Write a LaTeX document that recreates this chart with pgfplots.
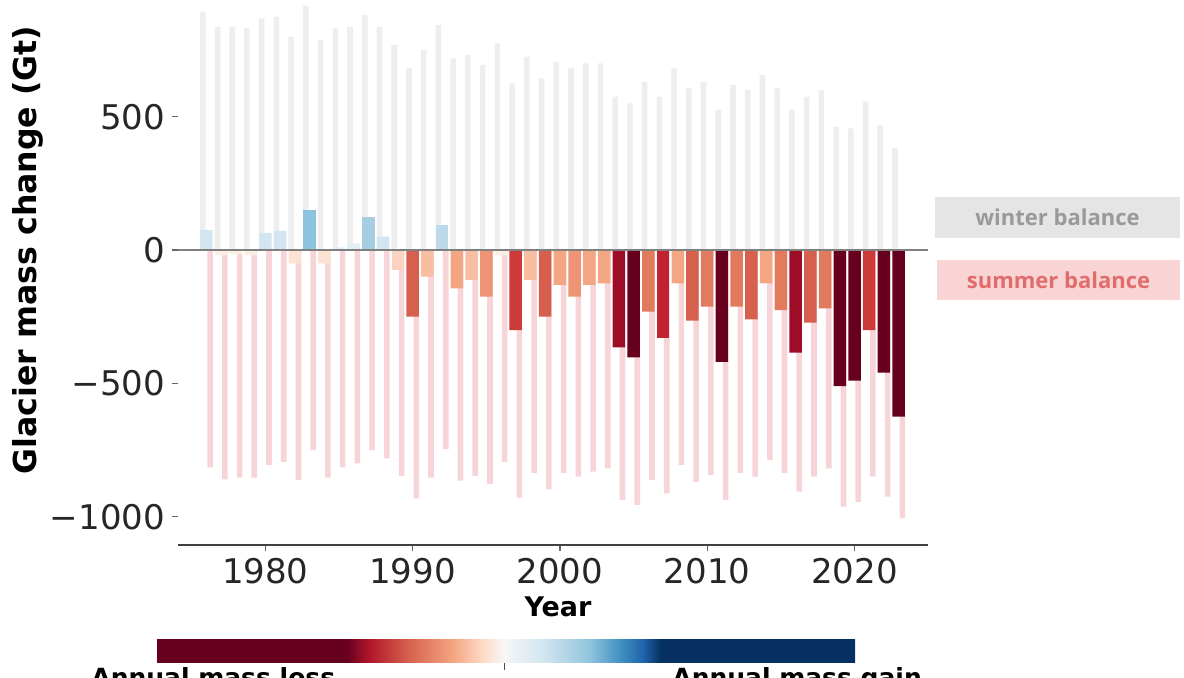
\documentclass[border=0pt]{standalone}
\usepackage{pgfplots}
\pgfplotsset{compat=1.18}
\usepackage{fontspec}
\setmainfont{DejaVu Sans}
\newfontfamily\legfont{Open Sans}
\definecolor{wgray}{HTML}{EEEEEE}
\definecolor{spink}{HTML}{F7D4D8}
\definecolor{legray}{HTML}{E5E5E5}
\definecolor{legpink}{HTML}{F8D4D4}
\definecolor{legraytext}{HTML}{999999}
\definecolor{legpinktext}{HTML}{E26B6B}
\definecolor{cA}{HTML}{67001F}
\definecolor{cB}{HTML}{9E0D27}
\definecolor{cC}{HTML}{C0222F}
\definecolor{cD}{HTML}{CC3A3A}
\definecolor{cE}{HTML}{D6604D}
\definecolor{cF}{HTML}{E27A5E}
\definecolor{cG}{HTML}{EE9373}
\definecolor{cH}{HTML}{F4A582}
\definecolor{cI}{HTML}{F7BEA2}
\definecolor{cJ}{HTML}{FBD3BF}
\definecolor{cK}{HTML}{FDE2D4}
\definecolor{cL}{HTML}{FCEDE5}
\definecolor{cM}{HTML}{E3EEF4}
\definecolor{cN}{HTML}{D2E5F0}
\definecolor{cO}{HTML}{BCDAEA}
\definecolor{cP}{HTML}{A5CEE3}
\definecolor{cQ}{HTML}{8EC3DD}
\definecolor{rb1}{HTML}{67001F}
\definecolor{rb2}{HTML}{B2182B}
\definecolor{rb3}{HTML}{D6604D}
\definecolor{rb4}{HTML}{F4A582}
\definecolor{rb5}{HTML}{FDDBC7}
\definecolor{rb6}{HTML}{F7F7F7}
\definecolor{rb7}{HTML}{D1E5F0}
\definecolor{rb8}{HTML}{92C5DE}
\definecolor{rb9}{HTML}{4393C3}
\definecolor{rb10}{HTML}{2166AC}
\definecolor{rb11}{HTML}{053061}
\pgfdeclarehorizontalshading{rdbu}{100bp}{color(0bp)=(rb1); color(25bp)=(rb1); color(38.6bp)=(rb1);
 color(40.25bp)=(rb2); color(43bp)=(rb3); color(46.2bp)=(rb4); color(48.35bp)=(rb5); color(49.85bp)=(rb6);
 color(52.7bp)=(rb7); color(55.95bp)=(rb8); color(58.1bp)=(rb9); color(59.75bp)=(rb10); color(61.1bp)=(rb11);
 color(75bp)=(rb11); color(100bp)=(rb11)}
\pgfplotsset{ann/.style={ybar, bar width=0.85, bar shift=0, draw=none, fill=#1}}
\begin{document}
\begin{tikzpicture}[x=1pt,y=1pt]
\begin{axis}[
  at={(89pt,66.5pt)}, anchor=south west,
  scale only axis, width=375pt, height=272.5pt,
  xmin=1974.07, xmax=2024.99, ymin=-1106, ymax=937.5,
  axis x line*=bottom, axis y line*=left,
  y axis line style={draw=none},
  x axis line style={-, draw=black!75, line width=0.8pt},
  xtick={1980,1990,2000,2010,2020},
  xticklabels={1980,1990,2000,2010,2020},
  ytick={-1000,-500,0,500},
  yticklabels={−1000,−500,0,500},
  tick align=outside,
  major tick length=3pt,
  tick style={draw=black!60, line width=0.6pt},
  ticklabel style={font=\fontsize{17}{20}\selectfont, text=black!85},
  clip=false,
]
% winter balance
\addplot[ybar, bar width=0.38, bar shift=-0.25, fill=wgray, draw=none] coordinates {
(1976,893) (1977,837) (1978,837) (1979,831) (1980,869) (1981,875) (1982,800) (1983,915)
(1984,787) (1985,831) (1986,837) (1987,881) (1988,837) (1989,769) (1990,681) (1991,750)
(1992,844) (1993,719) (1994,731) (1995,694) (1996,775) (1997,625) (1998,725) (1999,644)
(2000,706) (2001,681) (2002,700) (2003,700) (2004,575) (2005,550) (2006,631) (2007,575)
(2008,681) (2009,606) (2010,631) (2011,525) (2012,619) (2013,600) (2014,656) (2015,606)
(2016,525) (2017,575) (2018,600) (2019,463) (2020,456) (2021,556) (2022,469) (2023,381)};
% summer balance
\addplot[ybar, bar width=0.38, bar shift=0.25, fill=spink, draw=none] coordinates {
(1976,-815) (1977,-860) (1978,-853) (1979,-853) (1980,-806) (1981,-794) (1982,-862) (1983,-750)
(1984,-853) (1985,-815) (1986,-800) (1987,-750) (1988,-781) (1989,-847) (1990,-931) (1991,-853)
(1992,-747) (1993,-865) (1994,-847) (1995,-878) (1996,-794) (1997,-928) (1998,-837) (1999,-897)
(2000,-837) (2001,-850) (2002,-831) (2003,-819) (2004,-937) (2005,-956) (2006,-862) (2007,-912)
(2008,-806) (2009,-869) (2010,-844) (2011,-937) (2012,-837) (2013,-850) (2014,-787) (2015,-837)
(2016,-906) (2017,-850) (2018,-819) (2019,-962) (2020,-944) (2021,-850) (2022,-925) (2023,-1006)};
% annual balance
\addplot[ann=cA] coordinates {(2005,-403) (2011,-419) (2019,-510) (2020,-490) (2022,-460) (2023,-625)};
\addplot[ann=cB] coordinates {(2004,-365) (2016,-385)};
\addplot[ann=cC] coordinates {(2007,-331)};
\addplot[ann=cD] coordinates {(1997,-300) (2021,-300)};
\addplot[ann=cE] coordinates {(1990,-250) (1999,-250) (2009,-265) (2013,-260) (2017,-272)};
\addplot[ann=cF] coordinates {(2006,-231) (2010,-212) (2012,-212) (2015,-225) (2018,-219)};
\addplot[ann=cG] coordinates {(1995,-175) (2001,-175)};
\addplot[ann=cH] coordinates {(1993,-144) (2000,-131) (2002,-131) (2003,-125) (2008,-125) (2014,-125)};
\addplot[ann=cI] coordinates {(1991,-100) (1994,-112) (1998,-112)};
\addplot[ann=cJ] coordinates {(1989,-75)};
\addplot[ann=cK] coordinates {(1982,-50) (1984,-50)};
\addplot[ann=cL] coordinates {(1977,-20) (1978,-15) (1979,-20) (1996,-20)};
\addplot[ann=cM] coordinates {(1985,10) (1986,25)};
\addplot[ann=cN] coordinates {(1976,75) (1980,64) (1981,72) (1988,50)};
\addplot[ann=cO] coordinates {(1992,94)};
\addplot[ann=cP] coordinates {(1987,125)};
\addplot[ann=cQ] coordinates {(1983,150)};
\addplot[black!50, line width=0.8pt, mark=none] coordinates {(1974.07,0) (2024.99,0)};
\end{axis}
% axis titles
\node[rotate=90, font=\bfseries\fontsize{15.8}{18}\selectfont] at (14pt,214pt) {Glacier mass change (Gt)};
\node[font=\bfseries\fontsize{13.5}{16}\selectfont] at (279pt,35.5pt) {Year};
% legend boxes
\node[fill=legray, minimum width=122.5pt, minimum height=20.5pt, inner sep=0pt,
      text=legraytext, font=\legfont\bfseries\fontsize{11}{13}\selectfont] at (528.75pt,230.25pt) {winter balance};
\node[fill=legpink, minimum width=121.5pt, minimum height=20pt, inner sep=0pt,
      text=legpinktext, font=\legfont\bfseries\fontsize{11}{13}\selectfont] at (529.25pt,199pt) {summer balance};
% colorbar
\shade[shading=rdbu] (78.5pt,7.5pt) rectangle (427.5pt,19pt);
\draw[black!70, line width=0.5pt] (252.25pt,7.5pt) -- (252.25pt,4pt);
% captions under the colour bar (cut off at the lower edge, as in the reference)
\node[anchor=north west, inner sep=0pt, font=\bfseries\fontsize{12.5}{15}\selectfont] at (45.5pt,5.5pt) {Annual mass loss};
\node[anchor=north west, inner sep=0pt, font=\bfseries\fontsize{12.5}{15}\selectfont] at (336pt,5.5pt) {Annual mass gain};
\pgfresetboundingbox
\useasboundingbox (0pt,0pt) rectangle (592pt,339pt);
\end{tikzpicture}
\end{document}
